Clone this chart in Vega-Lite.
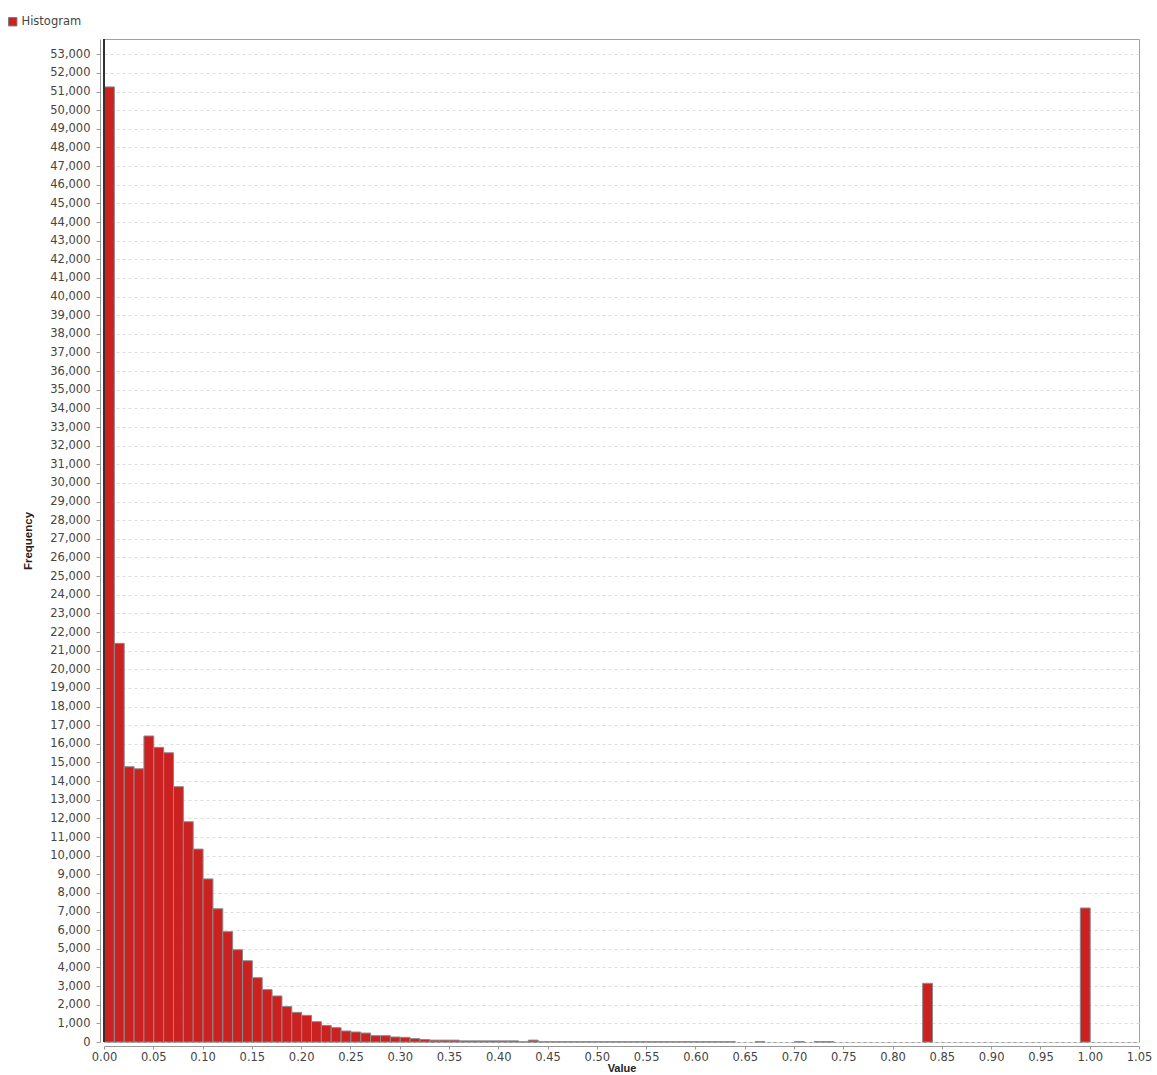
{
  "$schema": "https://vega.github.io/schema/vega-lite/v6.json",
  "autosize": "none",
  "width": 1035,
  "height": 1003,
  "padding": {"left": 104, "top": 39, "right": 18, "bottom": 33},
  "background": "white",
  "config": {
    "view": {"stroke": "#a0a0a0", "strokeWidth": 1},
    "axis": {
      "labelFont": "DejaVu Sans",
      "labelFontSize": 11.5,
      "labelColor": "#444444",
      "titleFont": "Liberation Sans",
      "titleFontSize": 11.5,
      "titleFontWeight": "bold",
      "titleColor": "#222222",
      "gridColor": "#dcdcdc",
      "gridDash": [3, 3],
      "gridWidth": 1,
      "domainColor": "#999999",
      "tickColor": "#999999"
    }
  },
  "data": {
    "values": [
      {"start": 0.00, "end": 0.01, "count": 51250},
      {"start": 0.01, "end": 0.02, "count": 21390},
      {"start": 0.02, "end": 0.03, "count": 14770},
      {"start": 0.03, "end": 0.04, "count": 14660},
      {"start": 0.04, "end": 0.05, "count": 16420},
      {"start": 0.05, "end": 0.06, "count": 15810},
      {"start": 0.06, "end": 0.07, "count": 15520},
      {"start": 0.07, "end": 0.08, "count": 13700},
      {"start": 0.08, "end": 0.09, "count": 11820},
      {"start": 0.09, "end": 0.10, "count": 10350},
      {"start": 0.10, "end": 0.11, "count": 8750},
      {"start": 0.11, "end": 0.12, "count": 7150},
      {"start": 0.12, "end": 0.13, "count": 5920},
      {"start": 0.13, "end": 0.14, "count": 4950},
      {"start": 0.14, "end": 0.15, "count": 4360},
      {"start": 0.15, "end": 0.16, "count": 3450},
      {"start": 0.16, "end": 0.17, "count": 2810},
      {"start": 0.17, "end": 0.18, "count": 2470},
      {"start": 0.18, "end": 0.19, "count": 1900},
      {"start": 0.19, "end": 0.20, "count": 1590},
      {"start": 0.20, "end": 0.21, "count": 1430},
      {"start": 0.21, "end": 0.22, "count": 1090},
      {"start": 0.22, "end": 0.23, "count": 890},
      {"start": 0.23, "end": 0.24, "count": 770},
      {"start": 0.24, "end": 0.25, "count": 590},
      {"start": 0.25, "end": 0.26, "count": 536},
      {"start": 0.26, "end": 0.27, "count": 480},
      {"start": 0.27, "end": 0.28, "count": 340},
      {"start": 0.28, "end": 0.29, "count": 340},
      {"start": 0.29, "end": 0.30, "count": 268},
      {"start": 0.30, "end": 0.31, "count": 250},
      {"start": 0.31, "end": 0.32, "count": 180},
      {"start": 0.32, "end": 0.33, "count": 130},
      {"start": 0.33, "end": 0.34, "count": 100},
      {"start": 0.34, "end": 0.35, "count": 100},
      {"start": 0.35, "end": 0.36, "count": 100},
      {"start": 0.36, "end": 0.37, "count": 60},
      {"start": 0.37, "end": 0.38, "count": 60},
      {"start": 0.38, "end": 0.39, "count": 60},
      {"start": 0.39, "end": 0.40, "count": 60},
      {"start": 0.40, "end": 0.41, "count": 60},
      {"start": 0.41, "end": 0.42, "count": 60},
      {"start": 0.42, "end": 0.43, "count": 10},
      {"start": 0.43, "end": 0.44, "count": 100},
      {"start": 0.44, "end": 0.45, "count": 15},
      {"start": 0.45, "end": 0.46, "count": 15},
      {"start": 0.46, "end": 0.47, "count": 15},
      {"start": 0.47, "end": 0.48, "count": 15},
      {"start": 0.48, "end": 0.49, "count": 15},
      {"start": 0.49, "end": 0.50, "count": 15},
      {"start": 0.50, "end": 0.51, "count": 15},
      {"start": 0.51, "end": 0.52, "count": 15},
      {"start": 0.52, "end": 0.53, "count": 15},
      {"start": 0.53, "end": 0.54, "count": 15},
      {"start": 0.54, "end": 0.55, "count": 15},
      {"start": 0.55, "end": 0.56, "count": 15},
      {"start": 0.56, "end": 0.57, "count": 15},
      {"start": 0.57, "end": 0.58, "count": 15},
      {"start": 0.58, "end": 0.59, "count": 15},
      {"start": 0.59, "end": 0.60, "count": 15},
      {"start": 0.60, "end": 0.61, "count": 15},
      {"start": 0.61, "end": 0.62, "count": 15},
      {"start": 0.62, "end": 0.63, "count": 15},
      {"start": 0.63, "end": 0.64, "count": 15},
      {"start": 0.66, "end": 0.67, "count": 20},
      {"start": 0.70, "end": 0.71, "count": 20},
      {"start": 0.72, "end": 0.73, "count": 20},
      {"start": 0.73, "end": 0.74, "count": 20},
      {"start": 0.83, "end": 0.84, "count": 3150},
      {"start": 0.99, "end": 1.00, "count": 7190}
    ]
  },
  "layer": [
    {
      "mark": {"type": "bar", "stroke": "#8a8a8a", "strokeWidth": 1, "binSpacing": 0},
      "encoding": {
        "x": {
          "field": "start",
          "type": "quantitative",
          "bin": "binned",
          "title": "Value",
          "scale": {"domain": [0, 1.05], "nice": false, "zero": false},
          "axis": {
            "values": [0, 0.05, 0.1, 0.15, 0.2, 0.25, 0.3, 0.35, 0.4, 0.45, 0.5, 0.55, 0.6, 0.65, 0.7, 0.75, 0.8, 0.85, 0.9, 0.95, 1.0, 1.05],
            "format": ".2f",
            "offset": 4,
            "tickSize": 3,
            "labelPadding": 2,
            "titlePadding": 0,
            "titleFontSize": 11,
            "labelFlush": false,
            "labelOverlap": false
          }
        },
        "x2": {"field": "end"},
        "y": {
          "field": "count",
          "type": "quantitative",
          "title": "Frequency",
          "scale": {"domain": [0, 53820], "nice": false},
          "axis": {
            "values": [0,1000,2000,3000,4000,5000,6000,7000,8000,9000,10000,11000,12000,13000,14000,15000,16000,17000,18000,19000,20000,21000,22000,23000,24000,25000,26000,27000,28000,29000,30000,31000,32000,33000,34000,35000,36000,37000,38000,39000,40000,41000,42000,43000,44000,45000,46000,47000,48000,49000,50000,51000,52000,53000],
            "format": ",d",
            "offset": 4,
            "tickSize": 4,
            "labelPadding": 6,
            "titlePadding": 16,
            "labelOverlap": false,
            "labelFlush": false
          }
        },
        "color": {
          "datum": "Histogram",
          "scale": {"range": ["#cc2121"]},
          "legend": {
            "orient": "none",
            "legendX": -97,
            "legendY": -23,
            "title": null,
            "symbolType": "square",
            "symbolSize": 70,
            "symbolStrokeColor": "#7a7a7a",
            "symbolStrokeWidth": 1,
            "labelFont": "DejaVu Sans",
            "labelFontSize": 11.5,
            "labelColor": "#444444",
            "labelOffset": 3,
            "padding": 0
          }
        }
      }
    },
    {
      "mark": {"type": "rule", "color": "#333333", "strokeWidth": 1.5},
      "encoding": {"x": {"datum": 0}}
    }
  ]
}
